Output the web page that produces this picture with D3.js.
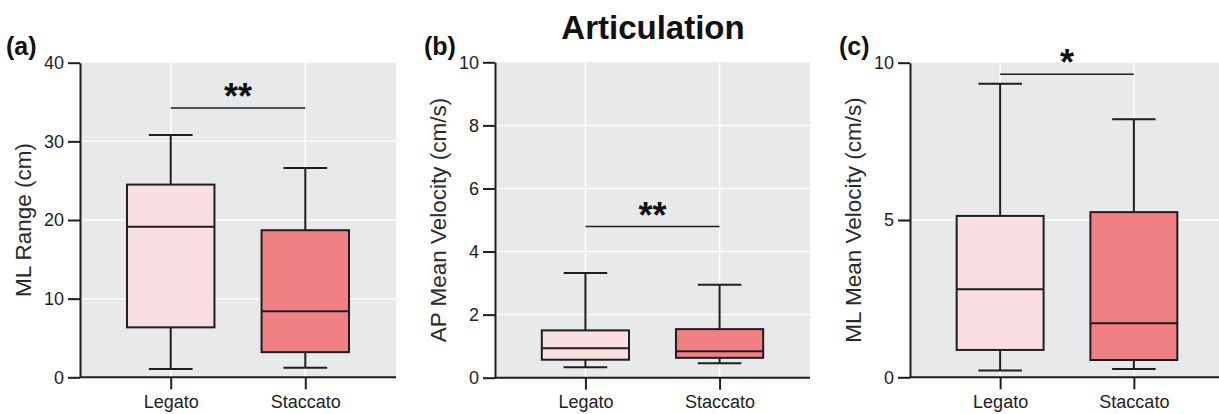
<!DOCTYPE html>
<html>
<head>
<meta charset="utf-8">
<script src="https://cdn.jsdelivr.net/npm/d3@7"></script>
<style>
  html, body { margin:0; padding:0; background:#fff; }
  svg text { font-family: "Liberation Sans", Arial, Helvetica, sans-serif; }
</style>
</head>
<body>
<svg id="chart" width="1219" height="414"></svg>
<script>
(function(){

const WIDTH = 1219, HEIGHT = 414;

// categories and box stats
const categories = ['Legato', 'Staccato'];
const fills = ['#fadfe2', '#f08083'];

// [min, q1, median, q3, max] per category
const boxA = [[1.05, 6.35, 19.15, 24.5, 30.8], [1.2, 3.2, 8.4, 18.7, 26.6]];
const boxB = [[0.33, 0.57, 0.93, 1.50, 3.32], [0.46, 0.63, 0.84, 1.54, 2.95]];
const boxC = [[0.22, 0.87, 2.80, 5.13, 9.33], [0.26, 0.55, 1.72, 5.25, 8.2]];

const ticksA = [0, 10, 20, 30, 40];
const ticksB = [0, 2, 4, 6, 8, 10];
const ticksC = [0, 5, 10];

const panels = [
  {tag:'(a)', title:'ML Range (cm)', boxes:boxA, ticks:ticksA, max:40, sig:'**', sigY:34.25,
   left:80, right:396, top:62.7, bottom:377.3, tagX:6},
  {tag:'(b)', title:'AP Mean Velocity (cm/s)', boxes:boxB, ticks:ticksB, max:10, sig:'**', sigY:4.79,
   left:495, right:810, top:62.3, bottom:377.7, tagX:424},
  {tag:'(c)', title:'ML Mean Velocity (cm/s)', boxes:boxC, ticks:ticksC, max:10, sig:'*', sigY:9.63,
   left:910, right:1224, top:62.7, bottom:377.3, tagX:839}
];

const svg = d3.select('#chart');
const INK = '#1e1e1e';

svg.append('text')
  .attr('x', 653).attr('y', 39)
  .attr('text-anchor','middle')
  .attr('font-size', 33).attr('font-weight','bold')
  .attr('fill', '#111')
  .text('Articulation');

panels.forEach(p => {
  const g = svg.append('g');
  const x = d3.scalePoint().domain(categories).range([p.left, p.right]).padding(0.674);
  const y = d3.scaleLinear().domain([0, p.max]).range([p.bottom, p.top]);
  const step = x.step();
  const boxW = step * 0.65, capW = boxW / 2;

  // plot background
  g.append('rect')
    .attr('x', p.left).attr('y', p.top)
    .attr('width', p.right - p.left).attr('height', p.bottom - p.top)
    .attr('fill', '#e8e9ea');

  // grid
  g.selectAll('line.hgrid')
    .data(p.ticks.filter(t => t > 0 && t < p.max))
    .join('line')
    .attr('x1', p.left).attr('x2', p.right)
    .attr('y1', d => y(d)).attr('y2', d => y(d))
    .attr('stroke', '#fff').attr('stroke-width', 1.5);
  g.selectAll('line.vgrid')
    .data(categories)
    .join('line')
    .attr('x1', d => x(d)).attr('x2', d => x(d))
    .attr('y1', p.top).attr('y2', p.bottom)
    .attr('stroke', '#fff').attr('stroke-width', 1.5);

  // boxes
  categories.forEach((c, i) => {
    const [mn, q1, med, q3, mx] = p.boxes[i];
    const cx = x(c);
    const bg = g.append('g').attr('stroke', INK).attr('stroke-width', 2);
    bg.append('line').attr('x1', cx).attr('x2', cx).attr('y1', y(mx)).attr('y2', y(q3));
    bg.append('line').attr('x1', cx).attr('x2', cx).attr('y1', y(q1)).attr('y2', y(mn));
    bg.append('line').attr('x1', cx - capW/2).attr('x2', cx + capW/2).attr('y1', y(mx)).attr('y2', y(mx));
    bg.append('line').attr('x1', cx - capW/2).attr('x2', cx + capW/2).attr('y1', y(mn)).attr('y2', y(mn));
    bg.append('rect')
      .attr('x', cx - boxW/2).attr('y', y(q3))
      .attr('width', boxW).attr('height', y(q1) - y(q3))
      .attr('fill', fills[i]);
    bg.append('line').attr('x1', cx - boxW/2).attr('x2', cx + boxW/2).attr('y1', y(med)).attr('y2', y(med));
  });

  // significance bar
  g.append('line')
    .attr('x1', x(categories[0])).attr('x2', x(categories[1]))
    .attr('y1', y(p.sigY)).attr('y2', y(p.sigY))
    .attr('stroke', INK).attr('stroke-width', 1.5);
  g.append('text')
    .attr('x', (x(categories[0]) + x(categories[1])) / 2)
    .attr('y', y(p.sigY) + 1)
    .attr('text-anchor', 'middle')
    .attr('font-size', 36).attr('font-weight', 'bold').attr('fill', '#111')
    .text(p.sig);

  // axes
  const yAxis = g.append('g')
    .attr('transform', `translate(${p.left},0)`)
    .call(d3.axisLeft(y).tickValues(p.ticks).tickSize(12).tickPadding(4).tickSizeOuter(0));
  const xAxis = g.append('g')
    .attr('transform', `translate(0,${p.bottom})`)
    .call(d3.axisBottom(x).tickSize(12).tickPadding(6).tickSizeOuter(0));
  [yAxis, xAxis].forEach(a => {
    a.select('.domain').attr('stroke', INK).attr('stroke-width', 2);
    a.selectAll('.tick line').attr('stroke', INK).attr('stroke-width', 2);
    a.selectAll('.tick text').attr('font-size', 18).attr('fill', '#222')
      .attr('font-family', '"Liberation Sans", Arial, sans-serif');
  });
  xAxis.select('.domain').attr('d', `M${p.left},0H${p.right}`);

  // axis title
  g.append('text')
    .attr('transform', `translate(${p.left - 49},${(p.top + p.bottom)/2}) rotate(-90)`)
    .attr('text-anchor', 'middle')
    .attr('font-size', 22.5).attr('fill', '#2a2a2a')
    .text(p.title);

  // panel tag
  g.append('text')
    .attr('x', p.tagX).attr('y', 55)
    .attr('font-size', 25).attr('font-weight', 'bold').attr('fill', '#111')
    .text(p.tag);
});

})();
</script>
</body>
</html>
